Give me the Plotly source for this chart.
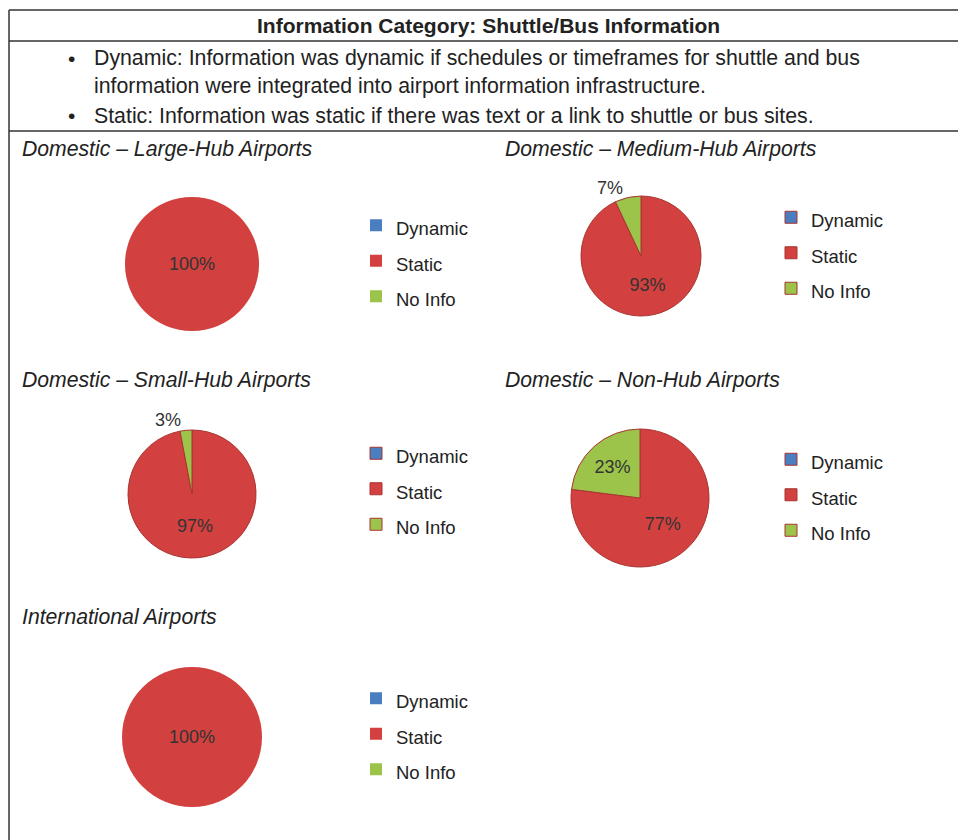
import plotly.graph_objects as go

W, H = 966, 840
OFF = 8  # page body margin of the html page

# ---- data ----
categories = ["Dynamic", "Static", "No Info"]
large_hub = [0, 100, 0]
medium_hub = [0, 93, 7]
small_hub = [0, 97, 3]
non_hub = [0, 77, 23]
international = [0, 100, 0]

chart_titles = [
    "Domestic \u2013 Large-Hub Airports",
    "Domestic \u2013 Medium-Hub Airports",
    "Domestic \u2013 Small-Hub Airports",
    "Domestic \u2013 Non-Hub Airports",
    "International Airports",
]
header_text = "Information Category: Shuttle/Bus Information"
bullet_lines = [
    "Dynamic: Information was dynamic if schedules or timeframes for shuttle and bus",
    "information were integrated into airport information infrastructure.",
    "Static: Information was static if there was text or a link to shuttle or bus sites.",
]

slice_colors = ["#4A7EC0", "#D2413F", "#9CC34A"]
FONT = "Liberation Sans, Arial, sans-serif"


def px(x):
    return (x - OFF) / W


def py(y):
    return 1 - (y - OFF) / H


fig = go.Figure()

# (values, centre x, centre y, radius, legend name, legend x, legend mid y, title x, title y)
panels = [
    (large_hub, 192, 264, 67, "legend", 356, 261, 20, 149),
    (medium_hub, 641, 256, 60, "legend2", 771, 253, 503, 149),
    (small_hub, 192, 494, 64, "legend3", 356, 489, 20, 380),
    (non_hub, 640, 498, 69, "legend4", 771, 495, 503, 380),
    (international, 192, 737, 70, "legend5", 356, 734, 20, 617),
]

legend_labels = ["<span style='font-size:18.5px'>%s</span>" % c for c in categories]

layout_legends = {}
annotations = []
for i, (vals, cx, cy, r, lg, lx, ly, tx, ty) in enumerate(panels):
    texts = [("%d%%" % v) if v else "" for v in vals]
    positions = ["outside" if (0 < v < 10) else "inside" for v in vals]
    full = max(vals) == sum(vals)
    fig.add_trace(go.Pie(
        labels=legend_labels,
        values=vals,
        text=texts,
        textinfo="text",
        textposition=positions,
        insidetextorientation="horizontal",
        textfont=dict(family=FONT, size=18, color="#333333"),
        outsidetextfont=dict(family=FONT, size=18, color="#333333"),
        sort=False,
        direction="clockwise",
        rotation=0,
        marker=dict(colors=slice_colors,
                    line=dict(color="#A83532", width=0 if full else 1)),
        domain=dict(x=[px(cx - r), px(cx + r)], y=[py(cy + r), py(cy - r)]),
        legend=lg,
        legendgroup="pie%d" % i,
        showlegend=True,
        hovertext=categories,
        hoverinfo="text+percent",
    ))
    layout_legends[lg] = dict(
        x=px(lx), y=py(ly), xanchor="left", yanchor="middle",
        font=dict(family=FONT, size=25, color="#222222"),
        bgcolor="rgba(0,0,0,0)", borderwidth=0,
        tracegroupgap=0,
    )
    annotations.append(dict(
        x=px(tx), y=py(ty), xref="paper", yref="paper",
        xanchor="left", yanchor="middle", showarrow=False,
        text="<i>%s</i>" % chart_titles[i],
        font=dict(family=FONT, size=21.2, color="#222222"),
    ))

# header and bullets
annotations.append(dict(
    x=px(488), y=py(25), xref="paper", yref="paper", xanchor="center",
    yanchor="middle", showarrow=False, text="<b>%s</b>" % header_text,
    font=dict(family=FONT, size=21, color="#222222"),
))
for (bx, txt, yy, bullet) in [
    (92, bullet_lines[0], 58, True),
    (92, bullet_lines[1], 86, False),
    (92, bullet_lines[2], 116, True),
]:
    annotations.append(dict(
        x=px(bx), y=py(yy), xref="paper", yref="paper", xanchor="left",
        yanchor="middle", showarrow=False, text=txt,
        font=dict(family=FONT, size=21.3, color="#222222"),
    ))
    if bullet:
        annotations.append(dict(
            x=px(71), y=py(yy), xref="paper", yref="paper", xanchor="center",
            yanchor="middle", showarrow=False, text="\u2022",
            font=dict(family=FONT, size=21, color="#222222"),
        ))

line_style = dict(color="#333333", width=1.5)
shapes = [
    dict(type="line", xref="paper", yref="paper", x0=px(9), x1=1, y0=py(10), y1=py(10), line=line_style),
    dict(type="line", xref="paper", yref="paper", x0=px(9), x1=1, y0=py(41), y1=py(41), line=line_style),
    dict(type="line", xref="paper", yref="paper", x0=px(9), x1=1, y0=py(131), y1=py(131), line=line_style),
    dict(type="line", xref="paper", yref="paper", x0=px(9), x1=px(9), y0=py(10), y1=0, line=line_style),
]

fig.update_layout(
    width=W, height=H,
    margin=dict(l=0, r=0, t=0, b=0),
    paper_bgcolor="white", plot_bgcolor="white",
    annotations=annotations,
    shapes=shapes,
    **layout_legends,
)

fig.write_html("out.html")
